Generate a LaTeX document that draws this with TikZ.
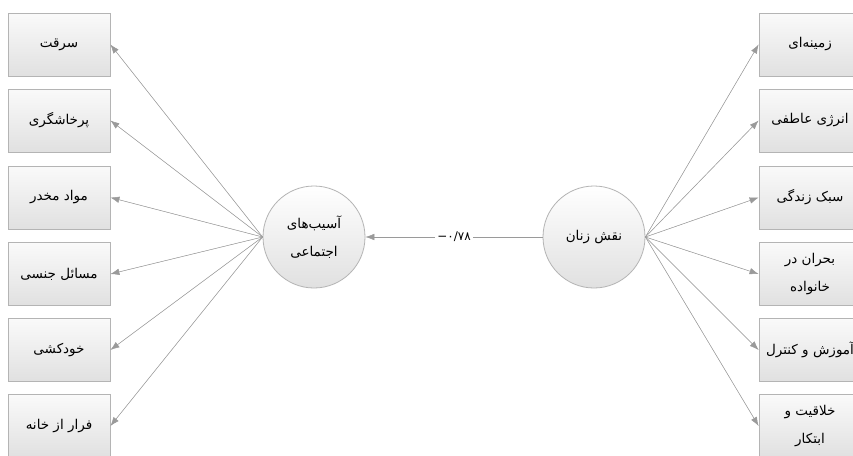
\documentclass[tikz,border=0pt]{standalone}
\usepackage{fontspec}
\newfontfamily\arabicfont[Script=Arabic]{DejaVu Sans}
\newfontfamily\numfont{DejaVu Sans}
\TeXXeTstate=1
\usetikzlibrary{arrows.meta}
\definecolor{edgegray}{HTML}{B4B4B4}
\definecolor{linegray}{HTML}{9A9A9A}

\begin{document}
\begin{tikzpicture}[
    x=1pt, y=-1pt,
    box/.style={draw=edgegray, line width=0.8pt, top color=white!96!gray, bottom color=black!12,
        minimum width=102pt, minimum height=63pt, align=center, inner sep=1pt,
        font=\arabicfont\fontsize{13.5}{28}\selectfont},
    latent/.style={circle, draw=edgegray, line width=0.8pt, top color=white, bottom color=black!12,
        minimum size=102pt, inner sep=0pt, align=center,
        font=\arabicfont\fontsize{13.5}{28}\selectfont},
    arrow/.style={-{Latex[length=9pt, width=6.5pt]}, draw=linegray, fill=linegray, line width=0.5pt},
    lbl/.style={fill=white, inner sep=2pt, font=\numfont\fontsize{12}{14}\selectfont}
]
    \useasboundingbox (0,0) rectangle (853,455);
    \clip (0,0) rectangle (853,455);
    \fill[white] (0,0) rectangle (853,455);

    % latent variables
    \node[latent] (harm) at (314,237) {\beginR آسیب‌های\endR\\\beginR اجتماعی\endR};
    \node[latent] (women) at (594,237) {\beginR نقش زنان\endR};

    % left indicators
    \node[box] (theft) at (59,44.5) {\beginR سرقت\endR};
    \node[box] (aggr) at (59,120.5) {\beginR پرخاشگری\endR};
    \node[box] (drugs) at (59,197.5) {\beginR مواد مخدر\endR};
    \node[box] (sexual) at (59,274) {\beginR مسائل جنسی\endR};
    \node[box] (suicide) at (59,350) {\beginR خودکشی\endR};
    \node[box] (runaway) at (59,426) {\beginR فرار از خانه\endR};

    % right indicators
    \node[box] (context) at (810,44.5) {\beginR زمینه‌ای\endR};
    \node[box] (emotion) at (810,120.5) {\beginR انرژی عاطفی\endR};
    \node[box] (lifestyle) at (810,197.5) {\beginR سبک زندگی\endR};
    \node[box] (crisis) at (810,274) {\beginR بحران در\endR\\\beginR خانواده\endR};
    \node[box] (educ) at (810,350) {\beginR آموزش و کنترل\endR};
    \node[box] (creat) at (810,426) {\beginR خلاقیت و\endR\\\beginR ابتکار\endR};

    % paths
    \draw[arrow] (women.west) -- node[lbl] {−۰/۷۸} (harm.east);
    \draw[arrow] (harm.west) -- (theft.east);
    \draw[arrow] (harm.west) -- (aggr.east);
    \draw[arrow] (harm.west) -- (drugs.east);
    \draw[arrow] (harm.west) -- (sexual.east);
    \draw[arrow] (harm.west) -- (suicide.east);
    \draw[arrow] (harm.west) -- (runaway.east);
    \draw[arrow] (women.east) -- (context.west);
    \draw[arrow] (women.east) -- (emotion.west);
    \draw[arrow] (women.east) -- (lifestyle.west);
    \draw[arrow] (women.east) -- (crisis.west);
    \draw[arrow] (women.east) -- (educ.west);
    \draw[arrow] (women.east) -- (creat.west);
\end{tikzpicture}
\end{document}
